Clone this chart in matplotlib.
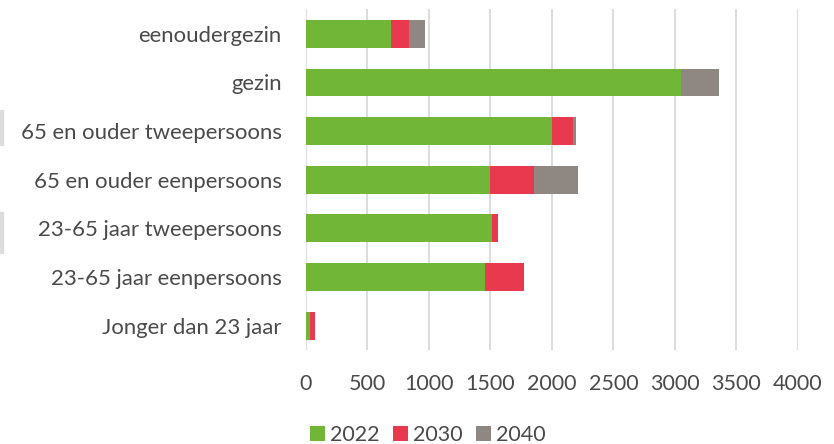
import numpy as np
import matplotlib.pyplot as plt
from matplotlib.patches import Rectangle

categories = ["eenoudergezin", "gezin", "65 en ouder tweepersoons",
              "65 en ouder eenpersoons", "23-65 jaar tweepersoons",
              "23-65 jaar eenpersoons", "Jonger dan 23 jaar"]
v2022 = [690, 3045, 2000, 1500, 1515, 1455, 33]
v2030 = [150, 0, 168, 355, 45, 320, 40]
v2040 = [125, 310, 24, 360, 0, 0, 0]
series = ["2022", "2030", "2040"]
colors = ["#72B637", "#E8394F", "#8F8882"]
xticks = [0, 500, 1000, 1500, 2000, 2500, 3000, 3500, 4000]

plt.rcParams["font.family"] = ["Lato", "DejaVu Sans"]
text_col = "#4a4a4a"

fig = plt.figure(figsize=(8.34, 4.44), dpi=100, facecolor="white")
ax = fig.add_axes([0.3669, 0.2117, 0.5899, 0.7671])

y = np.arange(len(categories))
left = np.zeros(len(categories))
handles = []
for name, vals, c in zip(series, [v2022, v2030, v2040], colors):
    vals = np.array(vals, dtype=float)
    h = ax.barh(y, vals, left=left, height=0.57, color=c, label=name, zorder=3)
    handles.append(h)
    left += vals

ax.set_ylim(len(categories) - 0.5, -0.5)
ax.set_xlim(0, 4000)
ax.set_xticks(xticks)
ax.set_yticks(y)
ax.set_yticklabels(categories, fontsize=15.9)
ax.xaxis.grid(True, color="#d9d9d9", linewidth=1.3, zorder=0)
for s in ax.spines.values():
    s.set_visible(False)
ax.tick_params(axis="both", length=0, labelsize=15.5, colors=text_col)
ax.tick_params(axis="y", labelsize=15.9, pad=17.5)
ax.tick_params(axis="x", pad=17)

fig.legend(handles=handles, labels=series, loc="center", bbox_to_anchor=(0.513, 0.02),
           ncol=3, frameon=False, fontsize=15.5, labelcolor=text_col,
           handlelength=0.7, handleheight=0.7, handletextpad=0.2, columnspacing=0.65)

# faint grey stubs along the left edge
fig.patches.append(Rectangle((0, 1 - 145 / 444), 3 / 834, 35 / 444,
                             transform=fig.transFigure, color="#dcdcdc"))
fig.patches.append(Rectangle((0, 1 - 253 / 444), 3 / 834, 41 / 444,
                             transform=fig.transFigure, color="#dcdcdc"))

fig.savefig("out.png", dpi=100, facecolor="white")
